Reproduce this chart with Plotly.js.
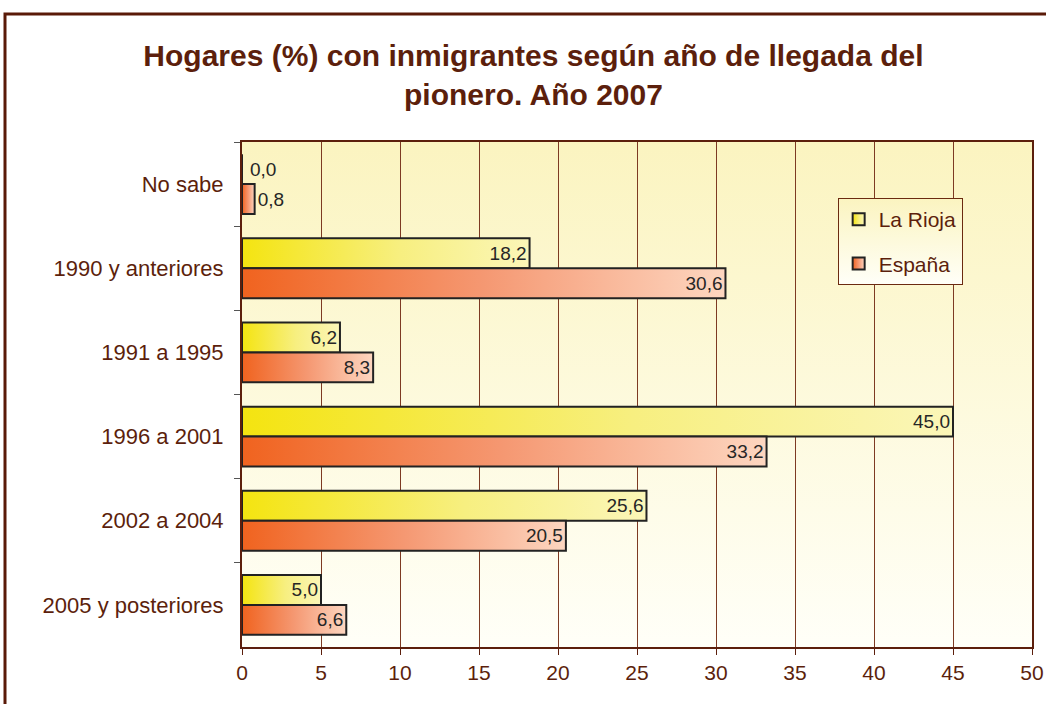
<!DOCTYPE html>
<html>
<head>
<meta charset="utf-8">
<script src="https://cdn.plot.ly/plotly-3.0.1.min.js"></script>
<style>
  html, body { margin: 0; padding: 0; background: #ffffff; }
  #chart { width: 1046px; height: 704px; }
</style>
</head>
<body>
<div id="chart"></div>
<script>
// ---- data ----
const categories = ["No sabe", "1990 y anteriores", "1991 a 1995", "1996 a 2001", "2002 a 2004", "2005 y posteriores"];
const laRioja = [0.0, 18.2, 6.2, 45.0, 25.6, 5.0];
const espana  = [0.8, 30.6, 8.3, 33.2, 20.5, 6.6];
const seriesNames = ["La Rioja", "España"];
const xTicks = [0, 5, 10, 15, 20, 25, 30, 35, 40, 45, 50];

const BROWN = "#5c1f0c";
const TXT = "#262626";
const valFont = {family: "Liberation Sans, Arial, sans-serif", size: 19, color: TXT};
const fmt = v => v.toFixed(1).replace(".", ",");

function barTrace(name, vals, solid, group) {
  return {
    type: "bar", orientation: "h", name: name,
    y: categories, x: vals,
    legendgroup: group,
    marker: {color: solid, line: {color: "#222222", width: 2}},
    texttemplate: "%{x:.1f}",
    textposition: "auto",
    insidetextanchor: "end",
    textangle: 0,
    insidetextfont: valFont,
    outsidetextfont: valFont,
    constraintext: "none",
    cliponaxis: false,
    hoverinfo: "skip"
  };
}

const data = [
  barTrace(seriesNames[0], laRioja, "#f8ee70", "g1"),
  barTrace(seriesNames[1], espana, "#f59a6e", "g2")
];

// labels for zero-length bars (Plotly draws no text for an empty bar)
const zeroAnnotations = [];
laRioja.forEach((v, i) => {
  if (v === 0) zeroAnnotations.push({
    x: v, y: categories[i], xref: "x", yref: "y",
    text: fmt(v), showarrow: false, xanchor: "left", yanchor: "middle",
    xshift: 6, yshift: 15, font: valFont
  });
});
espana.forEach((v, i) => {
  if (v === 0) zeroAnnotations.push({
    x: v, y: categories[i], xref: "x", yref: "y",
    text: fmt(v), showarrow: false, xanchor: "left", yanchor: "middle",
    xshift: 6, yshift: -15, font: valFont
  });
});

const layout = {
  width: 1046, height: 704,
  margin: {l: 242, r: 14, t: 142, b: 57},
  paper_bgcolor: "#ffffff",
  plot_bgcolor: "#fcf8d0",
  separators: ",.",
  barmode: "group",
  bargap: 0.29,
  bargroupgap: 0,
  showlegend: true,
  title: {
    text: "Hogares (%) con inmigrantes según año de llegada del<br>pionero. Año 2007",
    font: {family: "Liberation Sans, Arial, sans-serif", size: 30, color: BROWN, weight: "bold"},
    xref: "container", x: 0.51, xanchor: "center",
    yref: "container", y: 1 - 66/704, yanchor: "top"
  },
  xaxis: {
    range: [0, 50],
    tickvals: xTicks,
    ticktext: xTicks.map(String),
    showgrid: true, gridcolor: "#7d3a22", gridwidth: 1,
    showline: true, linecolor: BROWN, linewidth: 2, mirror: true,
    ticks: "outside", ticklen: 6, tickcolor: BROWN, tickwidth: 1,
    tickfont: {family: "Liberation Sans, Arial, sans-serif", size: 21, color: BROWN},
    zeroline: false, fixedrange: true
  },
  yaxis: {
    type: "category",
    categoryorder: "array", categoryarray: categories,
    autorange: "reversed",
    showgrid: false,
    showline: true, linecolor: BROWN, linewidth: 2, mirror: true,
    ticks: "outside", ticklen: 6, tickcolor: "#555555", tickwidth: 1,
    tickson: "boundaries",
    ticklabelstandoff: 12,
    tickfont: {family: "Liberation Sans, Arial, sans-serif", size: 22, color: BROWN},
    fixedrange: true
  },
  legend: {
    x: 0.754, y: 0.889, xanchor: "left", yanchor: "top",
    bgcolor: "#ffffff", bordercolor: "#6b2a10", borderwidth: 1,
    font: {family: "Liberation Sans, Arial, sans-serif", size: 21, color: BROWN},
    traceorder: "grouped", tracegroupgap: 14,
    itemclick: false, itemdoubleclick: false
  },
  annotations: zeroAnnotations,
  shapes: [{
    type: "rect", xref: "paper", yref: "paper",
    x0: -0.3, x1: 1.1, y0: -0.3, y1: (647 - 14) / 505,
    line: {color: "#5a1a08", width: 3}, fillcolor: "rgba(0,0,0,0)", layer: "above"
  }]
};

const gradDefs = {
  gradRioja: {dir: "h", stops: [["0%", "#f4e410"], ["55%", "#f7ef80"], ["100%", "#fbf6b8"]]},
  gradEspana: {dir: "h", stops: [["0%", "#f0631f"], ["50%", "#f59872"], ["100%", "#fdd6c0"]]},
  gradBg: {dir: "v", stops: [["0%", "#fbf4c0"], ["100%", "#fffff8"]]}
};

function applyGradients(gd) {
  const svg = gd.querySelector(".main-svg");
  if (!svg) return;
  const NS = "http://www.w3.org/2000/svg";
  let defs = svg.querySelector("defs");
  if (!defs) { defs = document.createElementNS(NS, "defs"); svg.insertBefore(defs, svg.firstChild); }
  Object.keys(gradDefs).forEach(id => {
    if (svg.querySelector("#" + id)) return;
    const g = document.createElementNS(NS, "linearGradient");
    g.setAttribute("id", id);
    g.setAttribute("x1", "0"); g.setAttribute("y1", "0");
    if (gradDefs[id].dir === "h") { g.setAttribute("x2", "1"); g.setAttribute("y2", "0"); }
    else { g.setAttribute("x2", "0"); g.setAttribute("y2", "1"); }
    gradDefs[id].stops.forEach(s => {
      const st = document.createElementNS(NS, "stop");
      st.setAttribute("offset", s[0]);
      st.setAttribute("stop-color", s[1]);
      g.appendChild(st);
    });
    defs.appendChild(g);
  });
  const ids = ["gradRioja", "gradEspana"];
  gd.querySelectorAll(".barlayer .trace").forEach((t, i) => {
    let idx = i;
    try { idx = t.__data__[0].trace.index; } catch (e) {}
    t.querySelectorAll("path").forEach(p => { p.style.fill = "url(#" + ids[idx] + ")"; });
  });
  gd.querySelectorAll(".legend .traces").forEach((t, i) => {
    let idx = i;
    try { idx = t.__data__[0].trace.index; } catch (e) {}
    t.querySelectorAll(".legendpoints path").forEach(p => { p.style.fill = "url(#" + ids[idx] + ")"; });
  });
  gd.querySelectorAll("rect.bg").forEach(r => { r.style.fill = "url(#gradBg)"; });
}

const gd = document.getElementById("chart");
Plotly.newPlot(gd, data, layout, {displayModeBar: false, staticPlot: true}).then(() => {
  applyGradients(gd);
  gd.on("plotly_afterplot", () => applyGradients(gd));
});
</script>
</body>
</html>
